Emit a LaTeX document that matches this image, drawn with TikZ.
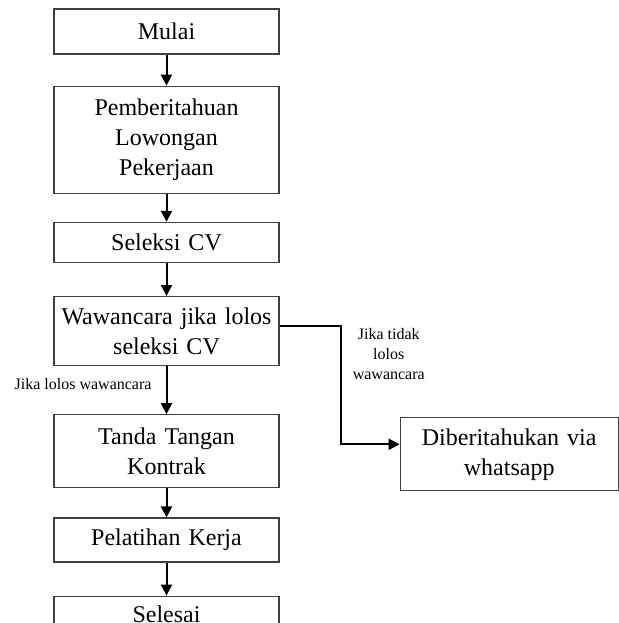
\documentclass[tikz,border=0pt]{standalone}
\usepackage{fontspec}
\setmainfont{Liberation Serif}
\usetikzlibrary{positioning, arrows.meta, calc}

\begin{document}
\begin{tikzpicture}
  [x=1pt,y=1pt,
   flowbox/.style={draw=black!75,line width=1.2pt,rectangle,inner sep=0pt,minimum width=225pt,text width=220pt,align=center,font=\fontsize{24}{30}\selectfont},
   flowarrow/.style={line width=2pt,-{Triangle[length=11pt,width=11pt]}},
   smalllabel/.style={inner sep=0pt,align=center,font=\fontsize{16}{20}\selectfont}]
  \useasboundingbox (0,0) rectangle (618,-623);
  \node (mulai) at (166.5,-31.5) [flowbox,minimum height=45pt] {Mulai};
  \node (lowongan) [flowbox,minimum height=107pt,below=31pt of mulai] {Pemberitahuan\\Lowongan\\Pekerjaan};
  \node (seleksi) [flowbox,minimum height=40pt,below=28pt of lowongan] {Seleksi CV};
  \node (wawancara) [flowbox,minimum height=69pt,below=33pt of seleksi] {Wawancara jika lolos\\seleksi CV};
  \node (kontrak) [flowbox,minimum height=73pt,below=48pt of wawancara] {Tanda Tangan\\Kontrak};
  \node (pelatihan) [flowbox,minimum height=44pt,below=29pt of kontrak] {Pelatihan Kerja};
  \node (selesai) [flowbox,minimum height=45pt,below=33pt of pelatihan] {Selesai\rule[-9pt]{0pt}{9pt}};
  \node (whatsapp) [flowbox,minimum width=218pt,text width=212pt,minimum height=73pt,right=120pt of kontrak,yshift=-3pt] {Diberitahukan via\\whatsapp};
  \draw [flowarrow] (mulai) -- (lowongan);
  \draw [flowarrow] (lowongan) -- (seleksi);
  \draw [flowarrow] (seleksi) -- (wawancara);
  \draw [flowarrow] (wawancara) -- (kontrak)
    node [smalllabel,midway,left=14pt,yshift=6pt] (lolos) {Jika lolos wawancara};
  \draw [flowarrow] (kontrak) -- (pelatihan);
  \draw [flowarrow] (pelatihan) -- (selesai);
  \coordinate (tikungan) at ($(wawancara.east)+(61,5)$);
  \draw [flowarrow] ([yshift=5pt]wawancara.east) -- (tikungan) |- ([yshift=10pt]whatsapp.west);
  \node (tidaklolos) [smalllabel,below right=2pt and 12pt of tikungan] {Jika tidak\\lolos\\wawancara};
\end{tikzpicture}
\end{document}
